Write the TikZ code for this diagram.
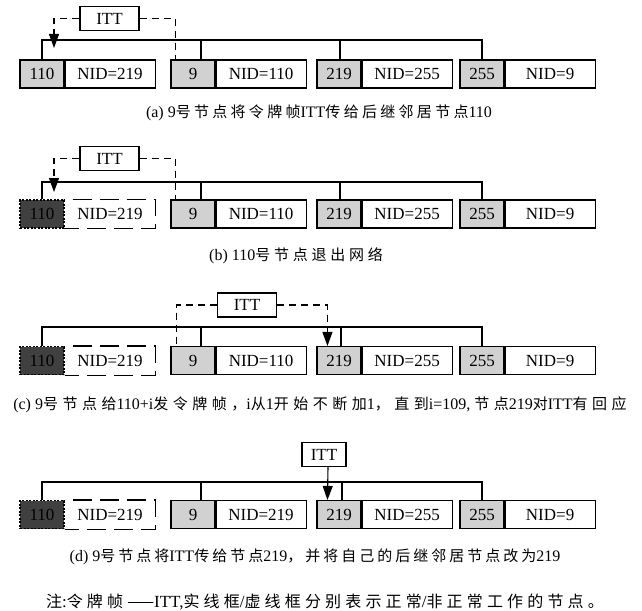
\documentclass[tikz,border=0pt]{standalone}
\usepackage{fontspec}
\setmainfont{Liberation Serif}
\newfontfamily\cjkA[LetterSpace=22]{Noto Sans CJK SC}
\newfontfamily\cjkB[LetterSpace=25]{Noto Sans CJK SC}
\newfontfamily\cjkC[LetterSpace=30]{Noto Sans CJK SC}
\newfontfamily\cjkD[LetterSpace=20]{Noto Sans CJK SC}
\newfontfamily\cjkE[LetterSpace=26]{Noto Sans CJK SC}
\let\cjk\cjkA
\newcommand\zh[1]{{\fontsize{15}{18}\cjk #1}}
\newcommand\zhn[1]{{\fontsize{16}{18}\cjkE #1}}
\usetikzlibrary{arrows.meta}
\tikzset{
 lw/.style={line width=1.1pt},
 idbox/.style={lw, draw, fill=black!18, minimum width=44pt, minimum height=28pt, inner sep=0pt, font=\fontsize{17}{17}\selectfont},
 nidbox/.style={lw, draw, minimum width=90pt, minimum height=28pt, inner sep=0pt, anchor=west, font=\fontsize{17}{17}\selectfont},
 deadid/.style={idbox, fill=black!75, dash pattern=on 2pt off 1.5pt},
 deadnid/.style={nidbox, draw=none},
 deadline/.style={lw, dash pattern=on 19pt off 8pt, dash phase=19pt},
 bus/.style={lw},
 tok/.style={lw, draw, minimum width=59pt, minimum height=24pt, inner sep=0pt, font=\fontsize{17}{17}\selectfont},
 tokline/.style={lw, dash pattern=on 7pt off 5pt},
 tip/.style={-{Triangle[length=14pt,width=10pt]}},
 captext/.style={font=\fontsize{16}{18}\selectfont, inner sep=0pt}
}
\begin{document}
\begin{tikzpicture}[x=1pt,y=-1pt]
\useasboundingbox (0,0) rectangle (642,610);
% ---------- (a)
\node[idbox] (i1a) at (42,74) {110};
\node[nidbox] (n1a) at (i1a.east) {NID=219};
\node[idbox] (i2a) at (193,74) {9};
\node[nidbox] (n2a) at (i2a.east) {NID=110};
\node[idbox] (i3a) at (339,74) {219};
\node[nidbox] (n3a) at (i3a.east) {NID=255};
\node[idbox] (i4a) at (482,74) {255};
\node[nidbox] (n4a) at (i4a.east) {NID=9};
\coordinate (ba) at (0,40);
\draw[bus] (i1a.north) |- (ba -| i4a.north) -- (i4a.north);
\draw[bus] ([xshift=8pt]i2a.north) -- ([xshift=8pt]i2a.north |- ba);
\draw[bus] ([xshift=1pt]i3a.north) -- ([xshift=1pt]i3a.north |- ba);
\node[tok] (ta) at (109.5,18.5) {ITT};
\coordinate (aa) at (54,48);
\draw[tokline,tip] (ta.west) -| (aa);
\draw[tokline] (ta.east) -| ([xshift=5pt]i2a.north west);
\node[captext] (ca) at (319,113) {\let\cjk\cjkA(a) 9\zh{号节点将令牌帧}ITT\zh{传给后继邻居节点}110};
% ---------- (b)
\node[deadid] (i1b) at (42,214) {110};
\node[deadnid] (n1b) at (i1b.east) {NID=219};
\draw[deadline] (n1b.north west) -- (n1b.north east) -- (n1b.south east) -- (n1b.south west);
\node[idbox] (i2b) at (193,214) {9};
\node[nidbox] (n2b) at (i2b.east) {NID=110};
\node[idbox] (i3b) at (339,214) {219};
\node[nidbox] (n3b) at (i3b.east) {NID=255};
\node[idbox] (i4b) at (482,214) {255};
\node[nidbox] (n4b) at (i4b.east) {NID=9};
\coordinate (bb) at (0,182);
\draw[bus] (i1b.north) |- (bb -| i4b.north) -- (i4b.north);
\draw[bus] ([xshift=8pt]i2b.north) -- ([xshift=8pt]i2b.north |- bb);
\draw[bus] ([xshift=1pt]i3b.north) -- ([xshift=1pt]i3b.north |- bb);
\node[tok] (tb) at (109.5,158.5) {ITT};
\coordinate (ab) at (54,192);
\draw[tokline,tip] (tb.west) -| (ab);
\draw[tokline] (tb.east) -| ([xshift=5pt]i2b.north west);
\node[captext] (cb) at (296,256) {\let\cjk\cjkB(b) 110\zh{号节点退出网络}};
% ---------- (c)
\node[deadid] (i1c) at (42,360.5) {110};
\node[deadnid] (n1c) at (i1c.east) {NID=219};
\draw[deadline] (n1c.north west) -- (n1c.north east) -- (n1c.south east) -- (n1c.south west);
\node[idbox] (i2c) at (193,360.5) {9};
\node[nidbox] (n2c) at (i2c.east) {NID=110};
\node[idbox] (i3c) at (339,360.5) {219};
\node[nidbox] (n3c) at (i3c.east) {NID=255};
\node[idbox] (i4c) at (482,360.5) {255};
\node[nidbox] (n4c) at (i4c.east) {NID=9};
\coordinate (bc) at (0,327);
\draw[bus] (i1c.north) |- (bc -| i4c.north) -- (i4c.north);
\draw[bus] ([xshift=8pt]i2c.north) -- ([xshift=8pt]i2c.north |- bc);
\draw[bus] ([xshift=2pt]i3c.north) -- ([xshift=2pt]i3c.north |- bc);
\node[tok] (tc) at (247,305) {ITT};
\draw[tokline] (tc.west) -| ([xshift=6pt]i2c.north west);
\draw[tokline,tip] (tc.east) -| ([xshift=11pt]i3c.north west);
\node[captext] (cc) at (320,405) {\let\cjk\cjkC(c) 9\zh{号节点给}110+i\zh{发令牌帧，}i\zh{从}1\zh{开始不断加}1\zh{，直到}i=109, \zh{节点}219\zh{对}ITT\zh{有回应}};
% ---------- (d)
\node[deadid] (i1d) at (42,514.5) {110};
\node[deadnid] (n1d) at (i1d.east) {NID=219};
\draw[deadline] (n1d.north west) -- (n1d.north east) -- (n1d.south east) -- (n1d.south west);
\node[idbox] (i2d) at (193,514.5) {9};
\node[nidbox] (n2d) at (i2d.east) {NID=219};
\node[idbox] (i3d) at (339,514.5) {219};
\node[nidbox] (n3d) at (i3d.east) {NID=255};
\node[idbox] (i4d) at (482,514.5) {255};
\node[nidbox] (n4d) at (i4d.east) {NID=9};
\coordinate (bd) at (0,482);
\draw[bus] (i1d.north) |- (bd -| i4d.north) -- (i4d.north);
\draw[bus] ([xshift=8pt]i2d.north) -- ([xshift=8pt]i2d.north |- bd);
\draw[bus] ([xshift=3pt]i3d.north) -- ([xshift=3pt]i3d.north |- bd);
\node[tok, minimum width=44pt] (td) at (324,454.5) {ITT};
\draw[lw,tip] ([xshift=4pt]td.south) -- ([xshift=11pt]i3d.north west);
\node[captext] (cd) at (315,557) {\let\cjk\cjkD(d) 9\zh{号节点将}ITT\zh{传给节点}219\zh{，并将自己的后继邻居节点改为}219};
\node[captext, font=\fontsize{17}{18}\selectfont] (note) at (325,602) {\zhn{注}:\zhn{令牌帧——}ITT,\zhn{实线框}/\zhn{虚线框分别表示正常}/\zhn{非正常工作的节点。}};
\end{tikzpicture}
\end{document}
